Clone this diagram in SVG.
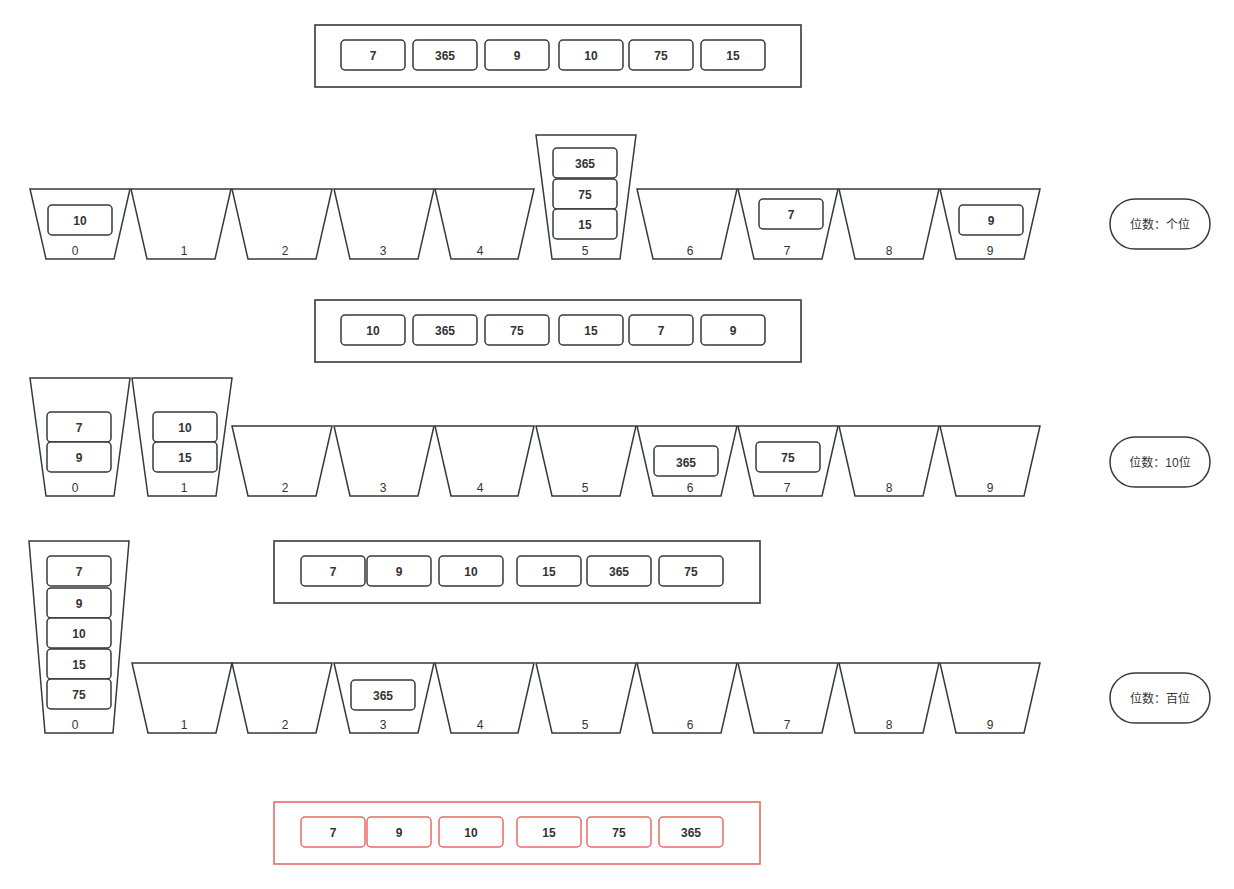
<svg xmlns="http://www.w3.org/2000/svg" width="1234" height="889" viewBox="0 0 1234 889">
<style>
.frame{fill:#fff;stroke:#36393d;stroke-width:1.6}
.red{fill:#fff;stroke:#ea6b66;stroke-width:1.6}
.item{fill:#fff;stroke:#36393d;stroke-width:1.5}
.itemr{fill:#fff;stroke:#ea6b66;stroke-width:1.5}
.bk{fill:#fff;stroke:#36393d;stroke-width:1.5;stroke-linejoin:miter}
.t{font-family:"Liberation Sans",Arial,sans-serif;font-size:12px;font-weight:bold;fill:#333;text-anchor:middle}
.l{font-family:"Liberation Sans",Arial,sans-serif;font-size:12px;fill:#333;text-anchor:middle}
.p{font-family:"Liberation Sans","Noto Sans CJK SC",sans-serif;font-size:12px;fill:#333;text-anchor:middle}
.pill{fill:#fff;stroke:#36393d;stroke-width:1.5}
</style>
<rect width="1234" height="889" fill="#fff"/>

<g id="array0">
<rect class="frame" x="315" y="25" width="486" height="62"/>
<rect class="item" x="341" y="40" width="64" height="30" rx="4"/><text class="t" x="373" y="60">7</text>
<rect class="item" x="413" y="40" width="64" height="30" rx="4"/><text class="t" x="445" y="60">365</text>
<rect class="item" x="485" y="40" width="64" height="30" rx="4"/><text class="t" x="517" y="60">9</text>
<rect class="item" x="559" y="40" width="64" height="30" rx="4"/><text class="t" x="591" y="60">10</text>
<rect class="item" x="629" y="40" width="64" height="30" rx="4"/><text class="t" x="661" y="60">75</text>
<rect class="item" x="701" y="40" width="64" height="30" rx="4"/><text class="t" x="733" y="60">15</text>
</g>

<g id="row1-buckets">
<polygon class="bk" points="30,189 130,189 114,259 46,259"/><text class="l" x="75" y="255">0</text>
<polygon class="bk" points="131,189 231,189 215,259 147,259"/><text class="l" x="184" y="255">1</text>
<polygon class="bk" points="232,189 332,189 316,259 248,259"/><text class="l" x="285" y="255">2</text>
<polygon class="bk" points="334,189 434,189 418,259 350,259"/><text class="l" x="383" y="255">3</text>
<polygon class="bk" points="435,189 534,189 518,259 451,259"/><text class="l" x="480" y="255">4</text>
<polygon class="bk" points="536,135 636,135 620,259 552,259"/><text class="l" x="585" y="255">5</text>
<polygon class="bk" points="637,189 737,189 721,259 653,259"/><text class="l" x="690" y="255">6</text>
<polygon class="bk" points="738,189 838,189 822,259 754,259"/><text class="l" x="787" y="255">7</text>
<polygon class="bk" points="839,189 939,189 923,259 855,259"/><text class="l" x="889" y="255">8</text>
<polygon class="bk" points="940,189 1040,189 1024,259 956,259"/><text class="l" x="990" y="255">9</text>
<rect class="item" x="48" y="205" width="64" height="30" rx="4"/><text class="t" x="80" y="225">10</text>
<rect class="item" x="553" y="148" width="64" height="30" rx="4"/><text class="t" x="585" y="168">365</text>
<rect class="item" x="553" y="179" width="64" height="30" rx="4"/><text class="t" x="585" y="199">75</text>
<rect class="item" x="553" y="209" width="64" height="30" rx="4"/><text class="t" x="585" y="229">15</text>
<rect class="item" x="759" y="199" width="64" height="30" rx="4"/><text class="t" x="791" y="219">7</text>
<rect class="item" x="959" y="205" width="64" height="30" rx="4"/><text class="t" x="991" y="225">9</text>
</g>
<g id="pill1"><rect class="pill" x="1110" y="199" width="100" height="50" rx="25"/><text class="p" x="1160" y="229">位数：个位</text></g>

<g id="array1">
<rect class="frame" x="315" y="300" width="486" height="62"/>
<rect class="item" x="341" y="315" width="64" height="30" rx="4"/><text class="t" x="373" y="335">10</text>
<rect class="item" x="413" y="315" width="64" height="30" rx="4"/><text class="t" x="445" y="335">365</text>
<rect class="item" x="485" y="315" width="64" height="30" rx="4"/><text class="t" x="517" y="335">75</text>
<rect class="item" x="559" y="315" width="64" height="30" rx="4"/><text class="t" x="591" y="335">15</text>
<rect class="item" x="629" y="315" width="64" height="30" rx="4"/><text class="t" x="661" y="335">7</text>
<rect class="item" x="701" y="315" width="64" height="30" rx="4"/><text class="t" x="733" y="335">9</text>
</g>

<g id="row2-buckets">
<polygon class="bk" points="30,378 130,378 114,496 46,496"/><text class="l" x="75" y="492">0</text>
<polygon class="bk" points="132,378 232,378 216,496 148,496"/><text class="l" x="184" y="492">1</text>
<polygon class="bk" points="232,426 332,426 316,496 248,496"/><text class="l" x="285" y="492">2</text>
<polygon class="bk" points="334,426 434,426 418,496 350,496"/><text class="l" x="383" y="492">3</text>
<polygon class="bk" points="435,426 534,426 518,496 451,496"/><text class="l" x="480" y="492">4</text>
<polygon class="bk" points="536,426 636,426 620,496 552,496"/><text class="l" x="585" y="492">5</text>
<polygon class="bk" points="637,426 737,426 721,496 653,496"/><text class="l" x="690" y="492">6</text>
<polygon class="bk" points="738,426 838,426 822,496 754,496"/><text class="l" x="787" y="492">7</text>
<polygon class="bk" points="839,426 939,426 923,496 855,496"/><text class="l" x="889" y="492">8</text>
<polygon class="bk" points="940,426 1040,426 1024,496 956,496"/><text class="l" x="990" y="492">9</text>
<rect class="item" x="47" y="412" width="64" height="30" rx="4"/><text class="t" x="79" y="432">7</text>
<rect class="item" x="47" y="442" width="64" height="30" rx="4"/><text class="t" x="79" y="462">9</text>
<rect class="item" x="153" y="412" width="64" height="30" rx="4"/><text class="t" x="185" y="432">10</text>
<rect class="item" x="153" y="442" width="64" height="30" rx="4"/><text class="t" x="185" y="462">15</text>
<rect class="item" x="654" y="446" width="64" height="30" rx="4"/><text class="t" x="686" y="467">365</text>
<rect class="item" x="756" y="442" width="64" height="30" rx="4"/><text class="t" x="788" y="462">75</text>
</g>
<g id="pill2"><rect class="pill" x="1110" y="437" width="100" height="50" rx="25"/><text class="p" x="1160" y="467">位数：10位</text></g>

<g id="array2">
<rect class="frame" x="274" y="541" width="486" height="62"/>
<rect class="item" x="301" y="556" width="64" height="30" rx="4"/><text class="t" x="333" y="576">7</text>
<rect class="item" x="367" y="556" width="64" height="30" rx="4"/><text class="t" x="399" y="576">9</text>
<rect class="item" x="439" y="556" width="64" height="30" rx="4"/><text class="t" x="471" y="576">10</text>
<rect class="item" x="517" y="556" width="64" height="30" rx="4"/><text class="t" x="549" y="576">15</text>
<rect class="item" x="587" y="556" width="64" height="30" rx="4"/><text class="t" x="619" y="576">365</text>
<rect class="item" x="659" y="556" width="64" height="30" rx="4"/><text class="t" x="691" y="576">75</text>
</g>

<g id="row3-buckets">
<polygon class="bk" points="29,541 129,541 113,733 45,733"/><text class="l" x="75" y="729">0</text>
<polygon class="bk" points="132,663 232,663 216,733 148,733"/><text class="l" x="184" y="729">1</text>
<polygon class="bk" points="232,663 332,663 316,733 248,733"/><text class="l" x="285" y="729">2</text>
<polygon class="bk" points="334,663 434,663 418,733 350,733"/><text class="l" x="383" y="729">3</text>
<polygon class="bk" points="435,663 534,663 518,733 451,733"/><text class="l" x="480" y="729">4</text>
<polygon class="bk" points="536,663 636,663 620,733 552,733"/><text class="l" x="585" y="729">5</text>
<polygon class="bk" points="637,663 737,663 721,733 653,733"/><text class="l" x="690" y="729">6</text>
<polygon class="bk" points="738,663 838,663 822,733 754,733"/><text class="l" x="787" y="729">7</text>
<polygon class="bk" points="839,663 939,663 923,733 855,733"/><text class="l" x="889" y="729">8</text>
<polygon class="bk" points="940,663 1040,663 1024,733 956,733"/><text class="l" x="990" y="729">9</text>
<rect class="item" x="47" y="556" width="64" height="30" rx="4"/><text class="t" x="79" y="576">7</text>
<rect class="item" x="47" y="588" width="64" height="30" rx="4"/><text class="t" x="79" y="608">9</text>
<rect class="item" x="47" y="618" width="64" height="30" rx="4"/><text class="t" x="79" y="638">10</text>
<rect class="item" x="47" y="649" width="64" height="30" rx="4"/><text class="t" x="79" y="669">15</text>
<rect class="item" x="47" y="679" width="64" height="30" rx="4"/><text class="t" x="79" y="699">75</text>
<rect class="item" x="351" y="680" width="64" height="30" rx="4"/><text class="t" x="383" y="700">365</text>
</g>
<g id="pill3"><rect class="pill" x="1110" y="673" width="100" height="50" rx="25"/><text class="p" x="1160" y="703">位数：百位</text></g>

<g id="result">
<rect class="red" x="274" y="802" width="486" height="62"/>
<rect class="itemr" x="301" y="817" width="64" height="30" rx="4"/><text class="t" x="333" y="837">7</text>
<rect class="itemr" x="367" y="817" width="64" height="30" rx="4"/><text class="t" x="399" y="837">9</text>
<rect class="itemr" x="439" y="817" width="64" height="30" rx="4"/><text class="t" x="471" y="837">10</text>
<rect class="itemr" x="517" y="817" width="64" height="30" rx="4"/><text class="t" x="549" y="837">15</text>
<rect class="itemr" x="587" y="817" width="64" height="30" rx="4"/><text class="t" x="619" y="837">75</text>
<rect class="itemr" x="659" y="817" width="64" height="30" rx="4"/><text class="t" x="691" y="837">365</text>
</g>
<g id="connectors"></g>
</svg>
